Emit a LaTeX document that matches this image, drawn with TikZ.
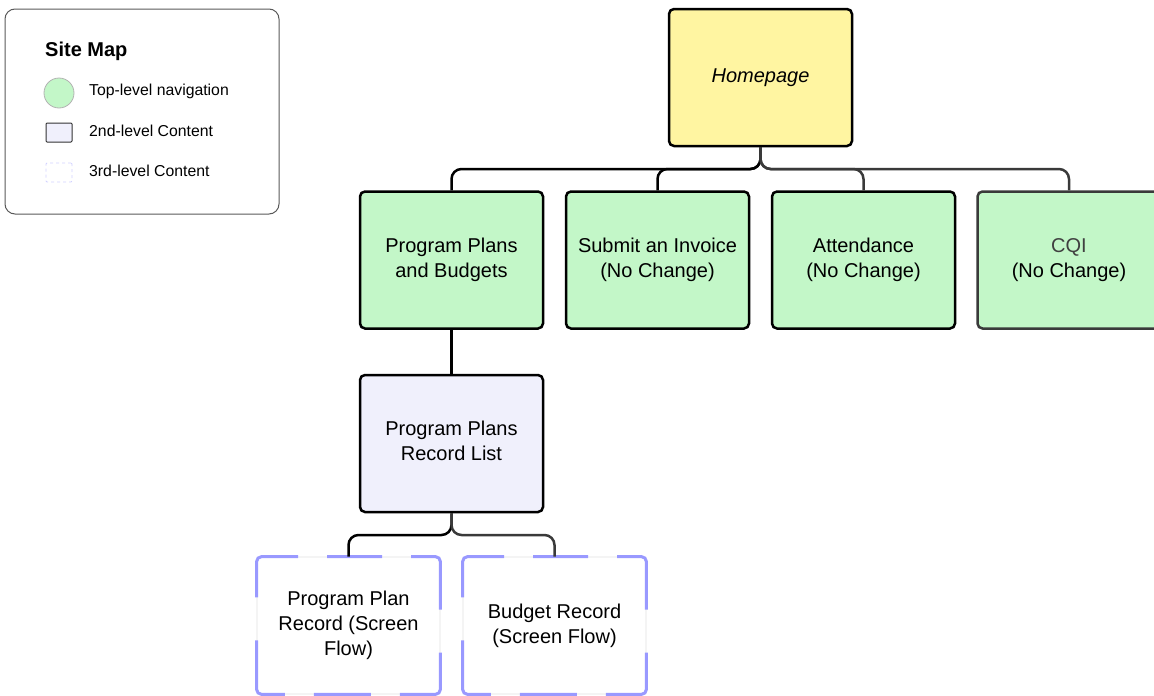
\documentclass[tikz,border=0pt]{standalone}
\usepackage{fontspec}
\setmainfont{Liberation Sans}
\usetikzlibrary{positioning}
\definecolor{navgreen}{HTML}{C3F7C8}
\definecolor{homeyellow}{HTML}{FFF5A1}
\definecolor{contentlav}{HTML}{F0F0FC}
\definecolor{dashblue}{HTML}{9999FF}
\definecolor{darkline}{HTML}{3A3A3A}

\begin{document}
\begin{tikzpicture}[x=1pt,y=-1pt,
		page/.style={draw=black, line width=2.5pt, rounded corners=5pt, minimum width=183pt, minimum height=137pt, inner sep=0pt, align=center, font=\fontsize{20}{25}\selectfont, text=black},
		navpage/.style={page, fill=navgreen},
		contentpage/.style={page, fill=contentlav},
		flowpage/.style={page, draw=black!12, line width=0.8pt},
		flowedge/.style={draw=dashblue, line width=3pt, rounded corners=5pt, dash pattern=on 57pt off 29pt on 80pt off 43pt on 80pt off 29pt, dash phase=28.5pt},
		link/.style={line width=2.5pt, rounded corners=10pt},
		legendtext/.style={anchor=west, inner sep=0pt, font=\fontsize{15.8}{18}\selectfont}]
		\useasboundingbox (0,0) rectangle (1154,696);
		
		\node[draw=black!65, line width=1pt, rounded corners=10pt, minimum width=274pt, minimum height=205pt] (legend) at (142,111.5) {};
		\node[anchor=west, inner sep=0pt, font=\bfseries\fontsize{20}{24}\selectfont] (legendtitle) at (45,51) {Site Map};
		\node[circle, fill=navgreen, draw=black!30, line width=0.8pt, minimum size=30pt, inner sep=0pt] (keynav) at (59,93) {};
		\node[legendtext] (keynavtext) at (89,91) {Top-level navigation};
		\node[draw=black!80, fill=contentlav, line width=1pt, rounded corners=1pt, minimum width=26pt, minimum height=19pt, inner sep=0pt] (keycontent) at (59,132.5) {};
		\node[legendtext] (keycontenttext) at (89,131) {2nd-level Content};
		\node[draw=dashblue!45, dashed, line width=0.8pt, rounded corners=1pt, minimum width=26pt, minimum height=19pt, inner sep=0pt] (keyflow) at (59,172.5) {};
		\node[legendtext] (keyflowtext) at (89,171) {3rd-level Content};
		
		\node[page, fill=homeyellow, font=\itshape\fontsize{20}{25}\selectfont] (home) at (760.5,77.5) {Homepage};
		\node[navpage] (plans) at (451.5,260) {Program Plans\\and Budgets};
		\node[navpage] (invoice) at (657.5,260) {Submit an Invoice\\(No Change)};
		\node[navpage] (attend) at (863.5,260) {Attendance\\(No Change)};
		\node[navpage, draw=darkline] (cqi) at (1069,260) {\textcolor{black!75}{CQI}\\(No Change)};
		\node[contentpage, text depth=6pt] (list) at (451.5,443.5) {Program Plans\\Record List};
		\node[flowpage] (planrec) at (348.5,625.5) {Program Plan\\Record (Screen\\Flow)};
		\node[flowpage] (budgetrec) at (554.5,625.5) {Budget Record\\(Screen Flow)};
		\draw[flowedge] (planrec.north) -| (planrec.south east) -| (planrec.north west) -- cycle;
		\draw[flowedge] (budgetrec.north) -| (budgetrec.south east) -| (budgetrec.north west) -- cycle;
		
		\coordinate (homebus) at (760.5,169);
		\coordinate (listbus) at (451.5,535);
		
		\draw[link] (home.south) -- (homebus) -| (plans.north);
		\draw[link] (home.south) -- (homebus) -| (invoice.north);
		\draw[link, darkline] (home.south) -- (homebus) -| (attend.north);
		\draw[link, darkline] (home.south) -- (homebus) -| (cqi.north);
		\draw[link] (plans) -- (list);
		\draw[link] (list.south) -- (listbus) -| (planrec.north);
		\draw[link, darkline] (list.south) -- (listbus) -| (budgetrec.north);
		\end{tikzpicture}
\end{document}
